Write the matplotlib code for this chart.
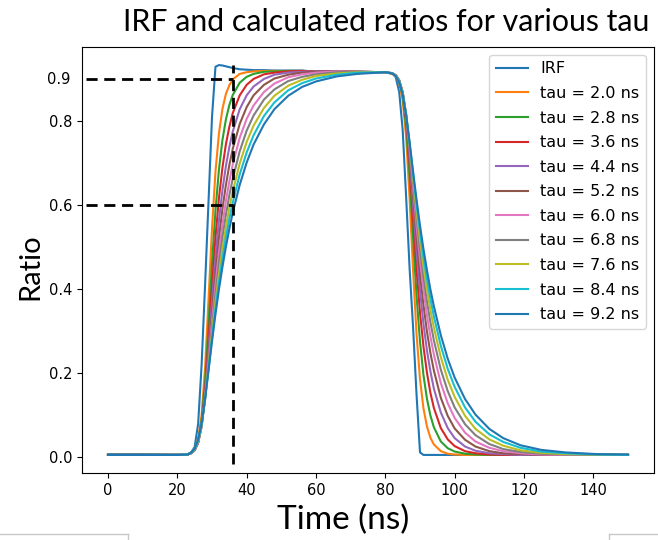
import matplotlib
matplotlib.use("Agg")
import matplotlib.pyplot as plt
from matplotlib.lines import Line2D

# time axis (ns), shared by every curve
t = [0, 10, 20, 23, 24, 25, 26, 27, 28, 29, 30, 31, 32, 33, 34, 35, 36, 38, 40, 42, 45, 48, 52, 56,
     60, 66, 72, 80, 82, 83, 84, 85, 86, 87, 88, 89, 90, 91, 92, 93, 94, 96, 98, 100, 103, 106,
     110, 114, 119, 125, 132, 141, 150]

irf = [0.008, 0.008, 0.007, 0.008, 0.012, 0.025, 0.08, 0.22, 0.41, 0.61, 0.81, 0.93, 0.934, 0.933,
       0.931, 0.929, 0.927, 0.924, 0.923, 0.922, 0.922, 0.921, 0.921, 0.921, 0.918, 0.92, 0.917, 0.917,
       0.915, 0.905, 0.87, 0.78, 0.62, 0.45, 0.31, 0.15, 0.012, 0.006, 0.006, 0.006, 0.006,
       0.006, 0.006, 0.006, 0.006, 0.006, 0.006, 0.006, 0.006, 0.006, 0.006, 0.006, 0.006]

taus = [2.0, 2.8, 3.6, 4.4, 5.2, 6.0, 6.8, 7.6, 8.4, 9.2]

r_20 = [0.006, 0.006, 0.006, 0.007, 0.011, 0.021, 0.045, 0.101, 0.213, 0.376, 0.545, 0.680, 0.771, 0.829,
        0.865, 0.886, 0.900, 0.913, 0.917, 0.919, 0.920, 0.920, 0.920, 0.920, 0.919, 0.919, 0.918, 0.917,
        0.913, 0.907, 0.891, 0.850, 0.763, 0.617, 0.444, 0.294, 0.186, 0.117, 0.074, 0.047, 0.031,
        0.015, 0.009, 0.007, 0.006, 0.006, 0.006, 0.006, 0.006, 0.006, 0.006, 0.006, 0.006]
r_28 = [0.006, 0.006, 0.006, 0.007, 0.011, 0.019, 0.039, 0.087, 0.179, 0.315, 0.462, 0.588, 0.685, 0.755,
        0.804, 0.839, 0.863, 0.892, 0.906, 0.913, 0.918, 0.919, 0.920, 0.920, 0.919, 0.919, 0.918, 0.917,
        0.914, 0.909, 0.895, 0.861, 0.788, 0.670, 0.523, 0.385, 0.276, 0.196, 0.140, 0.100, 0.072,
        0.038, 0.022, 0.014, 0.009, 0.007, 0.006, 0.006, 0.006, 0.006, 0.006, 0.006, 0.006]
r_36 = [0.006, 0.006, 0.006, 0.007, 0.010, 0.018, 0.036, 0.079, 0.161, 0.279, 0.408, 0.523, 0.617, 0.689,
        0.745, 0.787, 0.820, 0.862, 0.887, 0.901, 0.912, 0.916, 0.919, 0.920, 0.919, 0.919, 0.918, 0.917,
        0.914, 0.909, 0.897, 0.867, 0.802, 0.698, 0.570, 0.448, 0.345, 0.264, 0.202, 0.154, 0.118,
        0.070, 0.043, 0.027, 0.015, 0.010, 0.007, 0.006, 0.006, 0.006, 0.006, 0.006, 0.006]
r_44 = [0.006, 0.006, 0.006, 0.007, 0.010, 0.017, 0.035, 0.076, 0.151, 0.257, 0.371, 0.476, 0.564, 0.636,
        0.693, 0.739, 0.776, 0.829, 0.862, 0.883, 0.901, 0.911, 0.916, 0.918, 0.919, 0.919, 0.918, 0.917,
        0.914, 0.910, 0.897, 0.868, 0.809, 0.715, 0.602, 0.492, 0.397, 0.318, 0.255, 0.205, 0.164,
        0.107, 0.070, 0.046, 0.026, 0.016, 0.010, 0.008, 0.006, 0.006, 0.006, 0.006, 0.006]
r_52 = [0.006, 0.006, 0.006, 0.007, 0.010, 0.017, 0.035, 0.074, 0.144, 0.240, 0.343, 0.439, 0.521, 0.591,
        0.648, 0.696, 0.735, 0.794, 0.834, 0.862, 0.887, 0.902, 0.911, 0.916, 0.918, 0.919, 0.918, 0.917,
        0.914, 0.910, 0.898, 0.870, 0.813, 0.727, 0.625, 0.525, 0.437, 0.363, 0.300, 0.249, 0.207,
        0.142, 0.099, 0.069, 0.042, 0.026, 0.015, 0.010, 0.008, 0.006, 0.006, 0.006, 0.006]
r_60 = [0.006, 0.006, 0.006, 0.007, 0.010, 0.018, 0.036, 0.074, 0.141, 0.230, 0.324, 0.411, 0.488, 0.553,
        0.610, 0.657, 0.698, 0.761, 0.806, 0.838, 0.870, 0.890, 0.905, 0.912, 0.916, 0.919, 0.918, 0.917,
        0.914, 0.910, 0.897, 0.869, 0.816, 0.735, 0.642, 0.552, 0.470, 0.400, 0.339, 0.288, 0.245,
        0.177, 0.129, 0.094, 0.059, 0.038, 0.023, 0.015, 0.010, 0.007, 0.006, 0.006, 0.006]
r_68 = [0.006, 0.006, 0.006, 0.007, 0.011, 0.018, 0.037, 0.075, 0.140, 0.222, 0.308, 0.388, 0.460, 0.523,
        0.577, 0.624, 0.664, 0.729, 0.778, 0.814, 0.852, 0.876, 0.896, 0.906, 0.912, 0.917, 0.918, 0.917,
        0.914, 0.909, 0.897, 0.869, 0.816, 0.741, 0.655, 0.572, 0.496, 0.430, 0.372, 0.322, 0.279,
        0.209, 0.158, 0.119, 0.079, 0.053, 0.032, 0.020, 0.013, 0.009, 0.007, 0.006, 0.006]
r_76 = [0.006, 0.006, 0.006, 0.007, 0.011, 0.019, 0.038, 0.077, 0.139, 0.216, 0.295, 0.369, 0.436, 0.496,
        0.548, 0.594, 0.634, 0.700, 0.751, 0.790, 0.832, 0.861, 0.885, 0.899, 0.908, 0.914, 0.917, 0.917,
        0.914, 0.909, 0.896, 0.867, 0.817, 0.746, 0.665, 0.588, 0.518, 0.455, 0.400, 0.351, 0.309,
        0.239, 0.185, 0.144, 0.099, 0.068, 0.043, 0.028, 0.017, 0.011, 0.008, 0.007, 0.006]
r_84 = [0.006, 0.006, 0.006, 0.007, 0.011, 0.020, 0.040, 0.079, 0.139, 0.211, 0.285, 0.354, 0.417, 0.473,
        0.523, 0.568, 0.607, 0.674, 0.726, 0.767, 0.813, 0.845, 0.874, 0.891, 0.902, 0.911, 0.916, 0.917,
        0.914, 0.908, 0.895, 0.866, 0.816, 0.748, 0.674, 0.602, 0.537, 0.477, 0.425, 0.378, 0.336,
        0.266, 0.211, 0.168, 0.119, 0.085, 0.055, 0.037, 0.023, 0.014, 0.010, 0.007, 0.006]
r_92 = [0.006, 0.006, 0.006, 0.007, 0.012, 0.021, 0.042, 0.081, 0.139, 0.207, 0.276, 0.341, 0.400, 0.453,
        0.501, 0.544, 0.583, 0.649, 0.702, 0.745, 0.793, 0.829, 0.861, 0.882, 0.895, 0.907, 0.913, 0.917,
        0.914, 0.908, 0.893, 0.864, 0.814, 0.750, 0.681, 0.614, 0.552, 0.496, 0.446, 0.400, 0.360,
        0.291, 0.235, 0.190, 0.139, 0.102, 0.068, 0.046, 0.029, 0.018, 0.012, 0.008, 0.007]

ratios = [r_20, r_28, r_36, r_44, r_52, r_60, r_68, r_76, r_84, r_92]

# marker lines
t_mark = 36
levels = [0.9, 0.6]

fig = plt.figure(figsize=(6.58, 5.4), dpi=100)
ax = fig.add_axes([82/658, 67/540, 572/658, 426/540])

ax.plot(t, irf, label='IRF')
for tau, r in zip(taus, ratios):
    ax.plot(t, r, label='tau = {:.1f} ns'.format(tau))

for lv in levels:
    ax.plot([-6.3, t_mark], [lv, lv], color='black', lw=2, ls=(0, (4, 2.4)), zorder=5)
ax.plot([t_mark, t_mark], [-0.015, 0.935], color='black', lw=2, ls=(0, (4, 2.4)), zorder=5)

ax.set_xlim(-7.5, 157.5)
ax.set_ylim(-0.037, 0.977)
ax.set_xticks([0, 20, 40, 60, 80, 100, 120, 140])
ax.set_yticks([0.0, 0.2, 0.4, 0.6, 0.8])
ax.tick_params(labelsize=10.5)
ax.text(-0.021, 0.9, '0.9', transform=ax.get_yaxis_transform(), ha='right', va='center', fontsize=10.5)

ax.legend(loc='upper right', fontsize=11.5, labelspacing=0.6)

fig.text(0.587, 0.959, 'IRF and calculated ratios for various tau', family='Lato', fontsize=21.8,
         ha='center', va='center')
fig.text(0.0456, 0.506, 'Ratio', family='Lato', fontsize=21, rotation=90, ha='center', va='center')
fig.text(0.522, 0.037, 'Time (ns)', family='Lato', fontsize=24, ha='center', va='center')

# stray slide borders at the bottom edge
grey = '#c8c8c8'
fig.add_artist(Line2D([0, 128/658], [6/540, 6/540], color=grey, lw=1))
fig.add_artist(Line2D([128/658, 128/658], [0, 6/540], color=grey, lw=1))
fig.add_artist(Line2D([609/658, 1], [6/540, 6/540], color=grey, lw=1))
fig.add_artist(Line2D([609/658, 609/658], [0, 6/540], color=grey, lw=1))

fig.savefig('out.png', dpi=100)
